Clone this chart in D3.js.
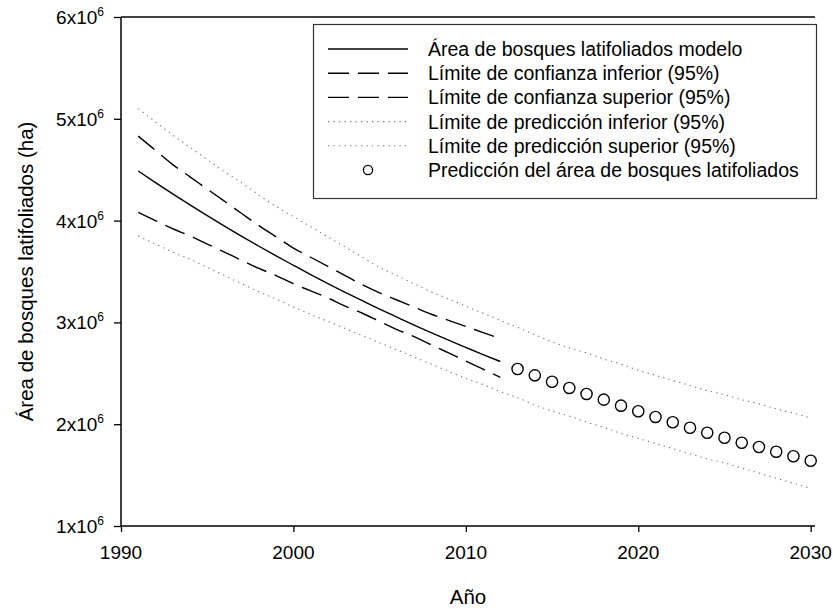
<!DOCTYPE html>
<html>
<head>
<meta charset="utf-8">
<script src="https://cdn.jsdelivr.net/npm/d3@7"></script>
<style>
  body { margin: 0; background: #fff; }
  text { font-family: "Liberation Sans", Arial, sans-serif; fill: #000; }
</style>
</head>
<body>
<div id="vis"></div>
<script>
const FRAME_WIDTH = 833;
const FRAME_HEIGHT = 609;
const MARGINS = {left: 121, right: 18, top: 17, bottom: 83};

// fitted period (model + confidence bands), in millions of ha
const yearsFit = [1991, 1992, 1993, 1994, 1995, 1996, 1997, 1998, 1999, 2000, 2001,
                  2002, 2003, 2004, 2005, 2006, 2007, 2008, 2009, 2010, 2011, 2012];
const model = [4.487, 4.373, 4.262, 4.154, 4.049, 3.946, 3.846, 3.748, 3.653, 3.561, 3.470,
               3.382, 3.296, 3.213, 3.131, 3.052, 2.974, 2.899, 2.825, 2.754, 2.684, 2.616];
const confLow = [4.08, 4.00, 3.92, 3.85, 3.77, 3.69, 3.61, 3.53, 3.46, 3.38, 3.31,
                 3.24, 3.16, 3.09, 3.01, 2.93, 2.86, 2.78, 2.70, 2.62, 2.54, 2.46];
const confHigh = [4.83, 4.69, 4.55, 4.43, 4.31, 4.19, 4.07, 3.95, 3.84, 3.73, 3.64,
                  3.55, 3.46, 3.37, 3.29, 3.22, 3.15, 3.08, 3.02, 2.96, 2.90, 2.84];

// prediction bands run over the whole period
const yearsAll = [1991, 1992, 1993, 1994, 1995, 1996, 1997, 1998, 1999, 2000,
                  2001, 2002, 2003, 2004, 2005, 2006, 2007, 2008, 2009, 2010,
                  2011, 2012, 2013, 2014, 2015, 2016, 2017, 2018, 2019, 2020,
                  2021, 2022, 2023, 2024, 2025, 2026, 2027, 2028, 2029, 2030];
const predLow = [3.85, 3.77, 3.69, 3.62, 3.54, 3.46, 3.38, 3.30, 3.23, 3.15,
                 3.08, 3.01, 2.94, 2.87, 2.80, 2.73, 2.66, 2.59, 2.52, 2.45,
                 2.39, 2.32, 2.26, 2.19, 2.13, 2.08, 2.02, 1.97, 1.91, 1.86,
                 1.81, 1.76, 1.71, 1.66, 1.62, 1.57, 1.52, 1.47, 1.42, 1.37];
const predHigh = [5.10, 4.97, 4.84, 4.72, 4.60, 4.48, 4.37, 4.25, 4.14, 4.04,
                  3.94, 3.84, 3.74, 3.64, 3.54, 3.46, 3.38, 3.30, 3.23, 3.16,
                  3.09, 3.02, 2.95, 2.88, 2.81, 2.75, 2.70, 2.64, 2.59, 2.53,
                  2.48, 2.43, 2.38, 2.33, 2.29, 2.24, 2.20, 2.15, 2.11, 2.06];

// predicted points
const yearsPred = [2013, 2014, 2015, 2016, 2017, 2018, 2019, 2020, 2021,
                   2022, 2023, 2024, 2025, 2026, 2027, 2028, 2029, 2030];
const predArea = [2.542, 2.480, 2.417, 2.356, 2.297, 2.241, 2.182, 2.127, 2.071,
                  2.019, 1.965, 1.916, 1.867, 1.818, 1.776, 1.730, 1.685, 1.641];

const yTicks = [1, 2, 3, 4, 5, 6];
const xTicks = [1990, 2000, 2010, 2020, 2030];

const legendLabels = ["Área de bosques latifoliados modelo",
                      "Límite de confianza inferior (95%)",
                      "Límite de confianza superior (95%)",
                      "Límite de predicción inferior (95%)",
                      "Límite de predicción superior (95%)",
                      "Predicción del área de bosques latifoliados"];

const SVG = d3.select("#vis")
  .append("svg")
    .attr("width", FRAME_WIDTH)
    .attr("height", FRAME_HEIGHT);

const VIS_WIDTH = FRAME_WIDTH - MARGINS.left - MARGINS.right;
const VIS_HEIGHT = FRAME_HEIGHT - MARGINS.top - MARGINS.bottom;

const X_SCALE = d3.scaleLinear()
  .domain([1990, 2030.25])
  .range([MARGINS.left, MARGINS.left + VIS_WIDTH]);
const Y_SCALE = d3.scaleLinear()
  .domain([1e6, 6e6])
  .range([MARGINS.top + VIS_HEIGHT, MARGINS.top]);

// line styles
const STYLES = {
  solid:  {stroke: "#000", width: 1.4, dash: null},
  dashed: {stroke: "#000", width: 1.4, dash: "21,9"},
  dotted: {stroke: "#777", width: 1.1, dash: "1.3,4.2"}
};

const line = d3.line()
  .x(d => X_SCALE(d[0]))
  .y(d => Y_SCALE(d[1] * 1e6))
  .curve(d3.curveMonotoneX);

function drawSeries(xs, ys, style) {
  const s = STYLES[style];
  SVG.append("path")
    .datum(d3.zip(xs, ys))
    .attr("d", line)
    .attr("fill", "none")
    .attr("stroke", s.stroke)
    .attr("stroke-width", s.width)
    .attr("stroke-dasharray", s.dash);
}

drawSeries(yearsAll, predHigh, "dotted");
drawSeries(yearsAll, predLow, "dotted");
drawSeries(yearsFit, confHigh, "dashed");
drawSeries(yearsFit, confLow, "dashed");
drawSeries(yearsFit, model, "solid");

SVG.selectAll(".pred")
  .data(d3.zip(yearsPred, predArea))
  .enter()
  .append("circle")
    .attr("class", "pred")
    .attr("cx", d => X_SCALE(d[0]))
    .attr("cy", d => Y_SCALE(d[1] * 1e6))
    .attr("r", 5.6)
    .attr("fill", "#fff")
    .attr("stroke", "#000")
    .attr("stroke-width", 1.4);

// axes
const yAxis = SVG.append("g")
  .attr("transform", "translate(" + MARGINS.left + ",0)")
  .call(d3.axisLeft(Y_SCALE).tickValues(yTicks.map(d => d * 1e6)).tickSize(7).tickFormat(""));
yAxis.select(".domain").attr("d", "M0," + Y_SCALE(1e6) + "V" + Y_SCALE(6e6));
yAxis.selectAll("line").attr("stroke-width", 1.3);
yAxis.select(".domain").attr("stroke-width", 1.5);

const xAxis = SVG.append("g")
  .attr("transform", "translate(0," + (MARGINS.top + VIS_HEIGHT) + ")")
  .call(d3.axisBottom(X_SCALE).tickValues(xTicks).tickSize(6).tickFormat(""));
xAxis.select(".domain").attr("d", "M" + MARGINS.left + ",0H" + (MARGINS.left + VIS_WIDTH));
xAxis.selectAll("line").attr("stroke-width", 1.3);
xAxis.select(".domain").attr("stroke-width", 1.5);

// top frame line
SVG.append("line")
  .attr("x1", MARGINS.left).attr("x2", MARGINS.left + VIS_WIDTH)
  .attr("y1", MARGINS.top).attr("y2", MARGINS.top)
  .attr("stroke", "#000").attr("stroke-width", 1.5);

// tick labels
const yLab = SVG.selectAll(".ylab")
  .data(yTicks)
  .enter()
  .append("text")
    .attr("class", "ylab")
    .attr("x", 104)
    .attr("y", d => Y_SCALE(d * 1e6) + 7)
    .attr("text-anchor", "end")
    .attr("font-size", "19px");
yLab.append("tspan").text(d => d + "x10");
yLab.append("tspan").text("6").attr("font-size", "12px").attr("dy", -8);

SVG.selectAll(".xlab")
  .data(xTicks)
  .enter()
  .append("text")
    .attr("class", "xlab")
    .attr("x", d => X_SCALE(d))
    .attr("y", 559)
    .attr("text-anchor", "middle")
    .attr("font-size", "19px")
    .text(d => d);

// axis titles
SVG.append("text")
  .attr("transform", "translate(33," + (MARGINS.top + VIS_HEIGHT / 2) + ") rotate(-90)")
  .attr("text-anchor", "middle")
  .attr("font-size", "20.5px")
  .text("Área de bosques latifoliados (ha)");

SVG.append("text")
  .attr("x", MARGINS.left + VIS_WIDTH / 2)
  .attr("y", 604)
  .attr("text-anchor", "middle")
  .attr("font-size", "20.5px")
  .text("Año");

// legend
const LEG = {x: 313, y: 24, w: 503, h: 174, row0: 49, step: 24.2};
SVG.append("rect")
  .attr("x", LEG.x + 0.5).attr("y", LEG.y + 0.5)
  .attr("width", LEG.w).attr("height", LEG.h)
  .attr("fill", "#fff").attr("stroke", "#333").attr("stroke-width", 1.2);

const legStyles = ["solid", "dashed", "dashed", "dotted", "dotted", "circle"];
legStyles.forEach((st, i) => {
  const y = LEG.row0 + i * LEG.step;
  if (st === "circle") {
    SVG.append("circle")
      .attr("cx", 368).attr("cy", y).attr("r", 4.6)
      .attr("fill", "#fff").attr("stroke", "#000").attr("stroke-width", 1.3);
  } else {
    const s = STYLES[st];
    SVG.append("line")
      .attr("x1", 328).attr("x2", 408).attr("y1", y).attr("y2", y)
      .attr("stroke", s.stroke).attr("stroke-width", s.width)
      .attr("stroke-dasharray", s.dash);
  }
  SVG.append("text")
    .attr("x", 428).attr("y", y + 7)
    .attr("font-size", "19.5px")
    .text(legendLabels[i]);
});
</script>
</body>
</html>
